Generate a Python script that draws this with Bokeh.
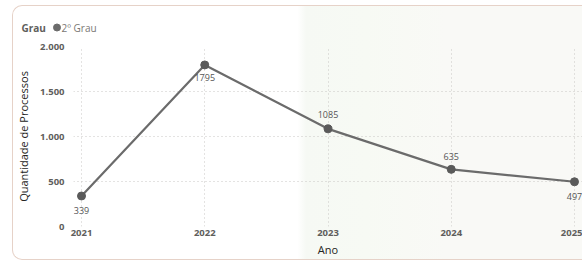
from bokeh.plotting import figure
from bokeh.layouts import column
from bokeh.models import FixedTicker, ColumnDataSource, Label
from bokeh.embed import file_html
from bokeh.resources import INLINE
from bokeh.core.properties import value

# ---- data ----
anos = [2021, 2022, 2023, 2024, 2025]
processos = [339, 1795, 1085, 635, 497]
rotulos = ["339", "1795", "1085", "635", "497"]
y_ticks = [0, 500, 1000, 1500, 2000]
y_tick_labels = ["0", "500", "1.000", "1.500", "2.000"]
x_ticks = [2021, 2022, 2023, 2024, 2025]
x_tick_labels = ["2021", "2022", "2023", "2024", "2025"]
legend_title = "Grau"
serie = "2º Grau"

# label placement (style): positive = below the point, negative = above
label_offsets = [15, 13, -14, -13, 15]

FONT = "Open Sans"
W = 569
HEAD_H = 32
MAIN_H = 221

# ---- header (legend) strip ----
head = figure(width=W, height=HEAD_H, output_backend="svg", toolbar_location=None,
              x_range=(0, W), y_range=(0, HEAD_H),
              min_border=0, x_axis_type=None, y_axis_type=None)
head.frame_align = False
head.outline_line_color = None
head.background_fill_color = None
head.border_fill_color = None
head.grid.visible = False
head.add_layout(Label(x=8, y=11, text=legend_title, text_font=FONT, text_font_style="bold",
                      text_font_size="10px", text_color="#605e5c",
                      text_baseline="middle", text_align="left"))
head.scatter([43.5], [11], size=7, fill_color="#6b6b6b", line_color="#6b6b6b")
head.add_layout(Label(x=48, y=11, text=serie, text_font=FONT,
                      text_font_size="10px", text_color="#7a7774",
                      text_baseline="middle", text_align="left"))

# ---- main chart ----
p = figure(width=W, height=MAIN_H, output_backend="svg", toolbar_location=None,
           x_range=(2020.935, 2025.065), y_range=(0, 2000),
           min_border_left=59, min_border_right=0, min_border_top=8, min_border_bottom=33)
p.frame_align = False
p.outline_line_color = None
p.background_fill_color = None
p.border_fill_color = None

for g in (p.xgrid, p.ygrid):
    g.grid_line_color = "#c8c6c4"
    g.grid_line_dash = "1 3"
    g.grid_line_width = 1

p.xaxis.ticker = FixedTicker(ticks=x_ticks)
p.xaxis.major_label_overrides = {t: l for t, l in zip(x_ticks, x_tick_labels)}
p.xaxis.axis_label = "Ano"
p.yaxis.ticker = FixedTicker(ticks=y_ticks)
p.yaxis.major_label_overrides = {t: l for t, l in zip(y_ticks, y_tick_labels)}
p.yaxis.axis_label = "Quantidade de Processos"

for ax in (p.xaxis[0], p.yaxis[0]):
    ax.axis_line_color = None
    ax.major_tick_line_color = None
    ax.minor_tick_line_color = None
    ax.major_tick_out = 0
    ax.major_tick_in = 0
    ax.major_label_text_font = FONT
    ax.major_label_text_font_style = "bold"
    ax.major_label_text_font_size = "9.5px"
    ax.major_label_text_color = "#605e5c"
    ax.axis_label_text_font = FONT
    ax.axis_label_text_font_style = "normal"
    ax.axis_label_text_font_size = "11px"
    ax.axis_label_text_color = "#252423"
p.xaxis.major_label_standoff = 3
p.xaxis.axis_label_standoff = 3
p.yaxis.major_label_standoff = 9
p.yaxis.axis_label_standoff = 6

src = ColumnDataSource(dict(x=anos, y=processos, t=rotulos, off=label_offsets))
p.line("x", "y", source=src, line_color="#6b6b6b", line_width=2.2)
p.scatter("x", "y", source=src, size=8, fill_color="#5a5a5a", line_color="#5a5a5a")
p.text("x", "y", text="t", source=src, y_offset="off", text_align="center",
       text_baseline="middle", text_font=value(FONT), text_font_size="9px",
       text_color="#555555")

layout = column(head, p, spacing=0, styles={
    "margin-left": "12px",
    "margin-top": "5px",
    "border-left": "1px solid #e6d2c8",
    "border-top": "1px solid #e6d2c8",
    "border-bottom": "1px solid #e6d2c8",
    "border-radius": "10px 0 0 10px",
    "background": "linear-gradient(90deg, #ffffff 0%, #ffffff 50%, #f6f9f4 51.5%, #f7faf4 62%, #f9f9f6 76%, #f9f9f6 100%)",
})

open("out.html", "w").write(file_html(layout, INLINE))
